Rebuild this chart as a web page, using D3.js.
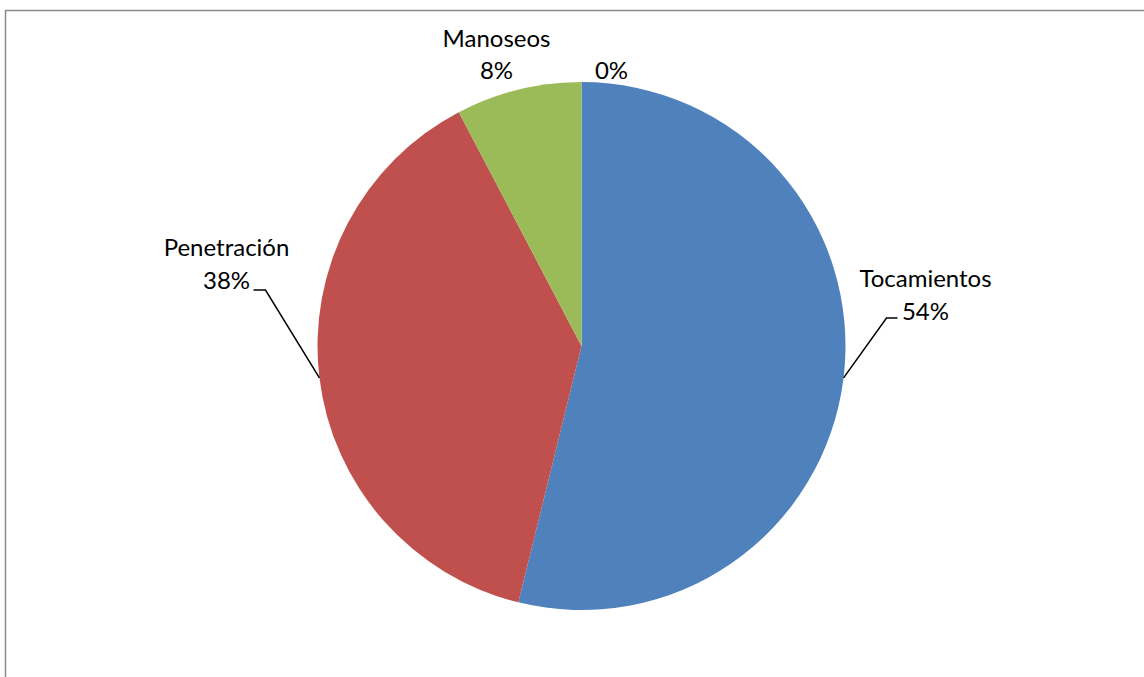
<!DOCTYPE html>
<html>
<head>
<meta charset="utf-8">
<script src="https://cdn.jsdelivr.net/npm/d3@7"></script>
<style>
  body { margin: 0; background: #fff; }
  svg text { font-family: Lato, "Open Sans", sans-serif; font-size: 24px; fill: #000; }
</style>
</head>
<body>
<div id="chart"></div>
<script>
// data
var categories = ["Tocamientos", "Penetración", "Manoseos", ""];
var counts = [7, 5, 1, 0];
var colors = ["#4F81BD", "#C0504D", "#9BBB59", "#8064A2"];

// label placement, relative to the pie centre (px)
var labelLayout = [
  {x: 344, y1: -59, y2: -26, leader: [[305, -28], [316, -28]]},
  {x: -355, y1: -90, y2: -57, leader: [[-316, -56], [-328, -56]]},
  {x: -85, y1: -299, y2: -267, leader: null},
  {x: 30, y1: null, y2: -267, leader: null}
];

var width = 1144, height = 677;
var cx = 581.5, cy = 346, radius = 264;

var svg = d3.select("#chart")
  .append("svg")
    .attr("width", width)
    .attr("height", height);

// chart area border (only left and top visible)
svg.append("path")
  .attr("d", "M5.5," + height + "V10.5H" + width)
  .attr("fill", "none")
  .attr("stroke", "#8a8a8a")
  .attr("stroke-width", 1.5);

var g = svg.append("g")
  .attr("transform", "translate(" + cx + "," + cy + ")");

var total = d3.sum(counts);
var pie = d3.pie().sort(null).value(function(d) { return d; });
var arcs = pie(counts);

var arc = d3.arc().innerRadius(0).outerRadius(radius);
var edge = d3.arc().innerRadius(radius).outerRadius(radius);

g.selectAll("path.slice")
  .data(arcs)
  .enter()
  .append("path")
    .attr("class", "slice")
    .attr("d", arc)
    .attr("fill", function(d, i) { return colors[i]; });

// leader lines
arcs.forEach(function(d, i) {
  var L = labelLayout[i];
  if (!L.leader) return;
  var p0 = edge.centroid(d);
  var pts = [p0].concat(L.leader);
  g.append("path")
    .attr("d", d3.line()(pts))
    .attr("fill", "none")
    .attr("stroke", "#000")
    .attr("stroke-width", 1.5);
});

// labels
arcs.forEach(function(d, i) {
  var L = labelLayout[i];
  var pct = Math.round(counts[i] / total * 100) + "%";
  if (L.y1 !== null && categories[i] !== "") {
    g.append("text")
      .attr("x", L.x).attr("y", L.y1)
      .attr("text-anchor", "middle")
      .text(categories[i]);
  }
  g.append("text")
    .attr("x", L.x).attr("y", L.y2)
    .attr("text-anchor", "middle")
    .text(pct);
});
</script>
</body>
</html>
